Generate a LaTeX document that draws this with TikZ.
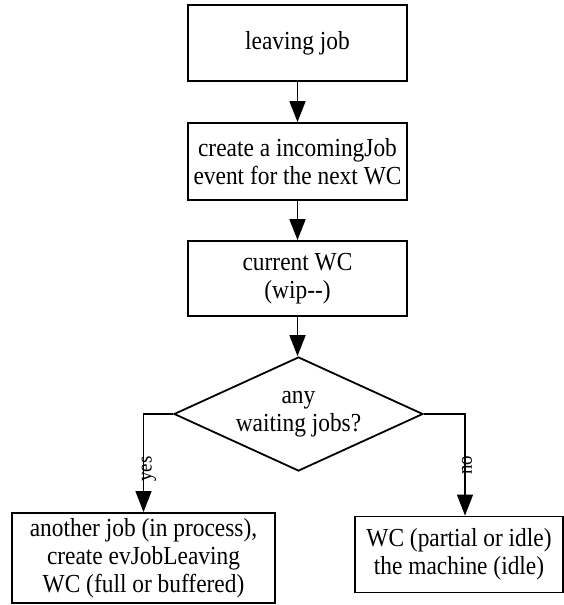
\documentclass[tikz,border=0pt]{standalone}
\usepackage{fontspec}
\setmainfont[FakeStretch=0.9]{Liberation Serif}
\usetikzlibrary{shapes.geometric,arrows.meta}
\begin{document}
\begin{tikzpicture}[x=1pt,y=1pt,
  every node/.style={font=\fontsize{26}{28}\selectfont, align=center, inner sep=0pt},
  stepbox/.style={draw, line width=1.8pt, rectangle},
  decision/.style={draw, line width=1.8pt, diamond, minimum width=249pt, minimum height=114pt},
  flow/.style={line width=1.8pt, -{Triangle[length=21pt,width=16pt]}},
  branch/.style={line width=1.3pt, -{Triangle[length=21pt,width=16pt]}},
  branchlabel/.style={font=\fontsize{21}{24}\selectfont, rotate=90}]
\useasboundingbox (0,0) rectangle (564,-605);

\node[stepbox, minimum width=219pt, minimum height=76pt] (leave) at (297.5,-43) {leaving job};
\node[stepbox, minimum width=219pt, minimum height=77pt] (create) at (297.5,-161.5)
  {create a incomingJob\\event for the next WC};
\node[stepbox, minimum width=219pt, minimum height=75pt] (current) at (297.5,-278.5)
  {current WC\\(wip-{}-)};
\node[decision] (dia) at (298.5,-414) {};
\node (diatext) at (dia.center) {any\\waiting jobs?};
\node[stepbox, minimum width=263pt, minimum height=90pt] (yes) at (143.5,-558)
  {another job (in process),\\create evJobLeaving\\WC (full or buffered)};
\node[stepbox, minimum width=208pt, minimum height=76pt] (no) at (459,-554.5)
  {WC (partial or idle)\\the machine (idle)};

\draw[flow] (leave) -- (create);
\draw[flow] (create) -- (current);
\draw[flow] (current.south) -- (current.south |- dia.north);
\draw[branch] (dia.west) -| (yes.north);
\draw[branch] (dia.east) -| ([xshift=6pt]no.north);

\node[branchlabel] (yeslabel) at (149,-469) {yes};
\node[branchlabel] (nolabel) at (467,-465) {no};
\end{tikzpicture}
\end{document}
